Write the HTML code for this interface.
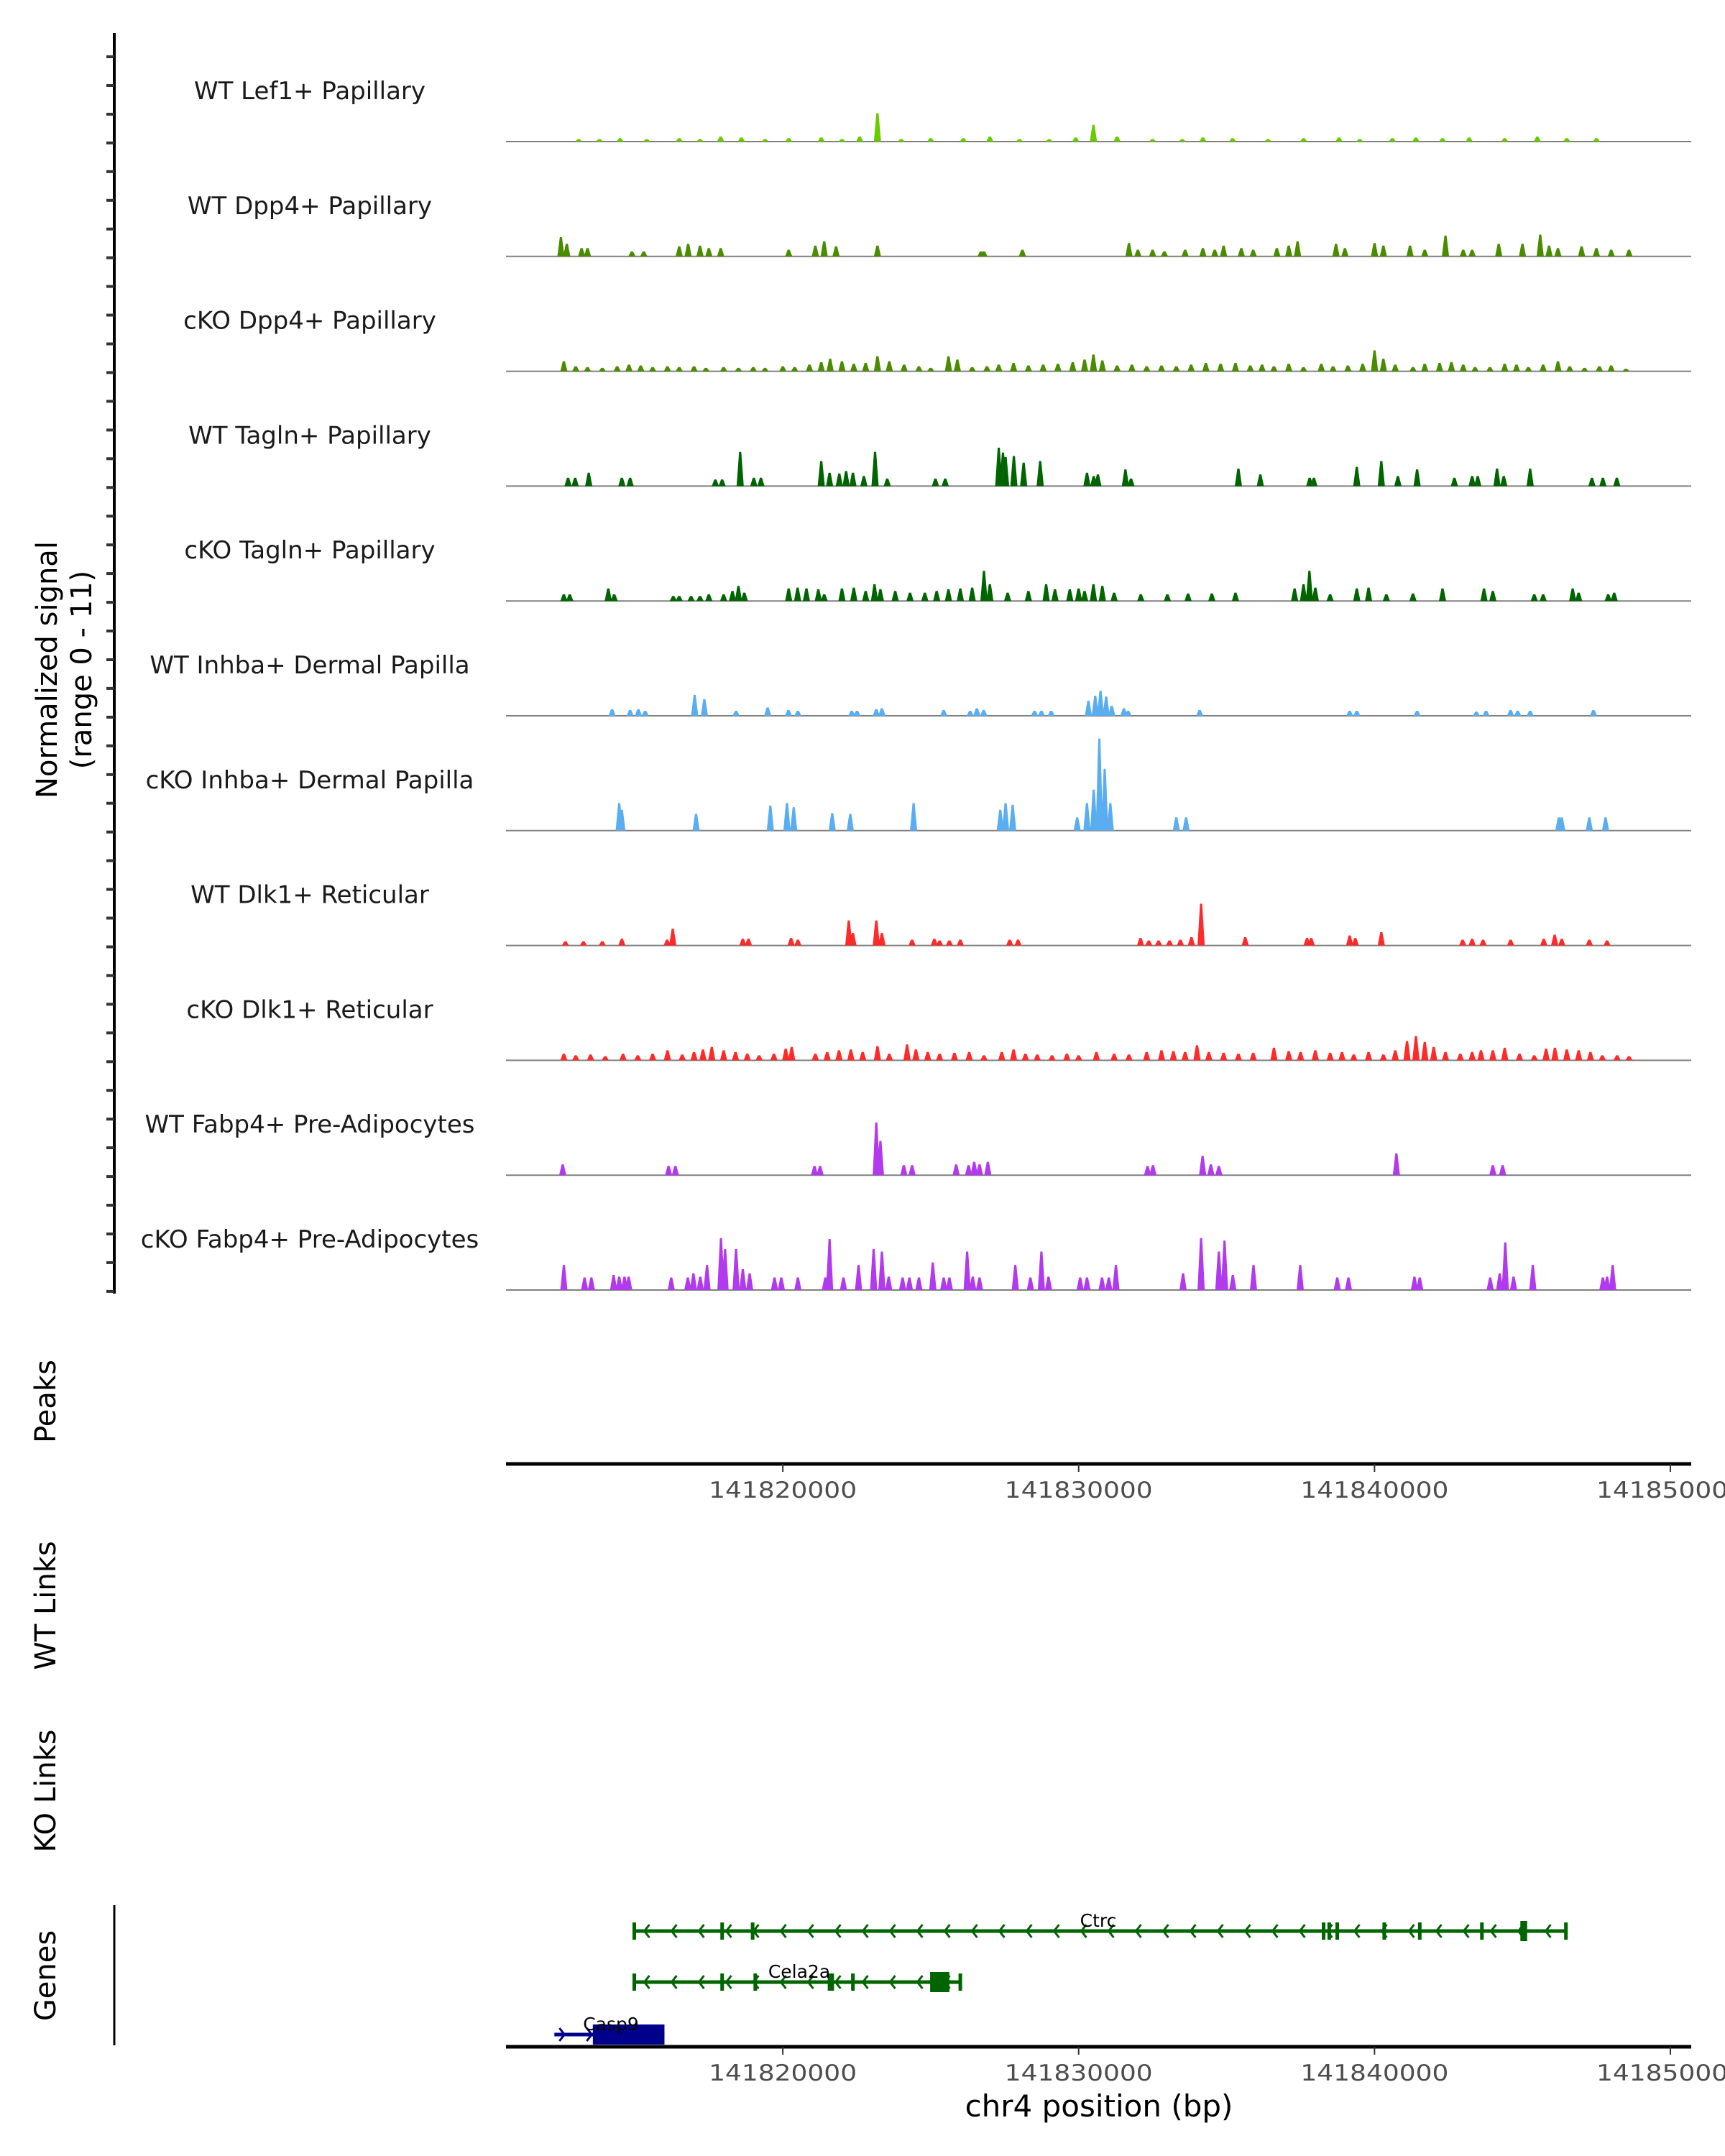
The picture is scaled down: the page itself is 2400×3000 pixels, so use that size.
<!DOCTYPE html>
<html><head><meta charset="utf-8">
<style>
html,body{margin:0;padding:0;background:#fff;}
svg{display:block;font-family:"DejaVu Sans","Liberation Sans",sans-serif;}
</style></head>
<body>
<svg id="chart" width="2400" height="3000" viewBox="0 0 2400 3000" xmlns="http://www.w3.org/2000/svg">
  <rect width="2400" height="3000" fill="#fff"/>
  <g id="yaxis"></g>
  <g id="tracks"></g>
  <text transform="translate(79,932) rotate(-90)" text-anchor="middle" font-size="40" fill="#000">Normalized signal</text>
  <text transform="translate(127,932) rotate(-90)" text-anchor="middle" font-size="40" fill="#000">(range 0 - 11)</text>
  <text transform="translate(77,1950) rotate(-90)" text-anchor="middle" font-size="40">Peaks</text>
  <text transform="translate(77,2234) rotate(-90)" text-anchor="middle" font-size="40">WT Links</text>
  <text transform="translate(77,2492) rotate(-90)" text-anchor="middle" font-size="40">KO Links</text>
  <text transform="translate(77,2749) rotate(-90)" text-anchor="middle" font-size="40">Genes</text>
  <line x1="159" y1="2651" x2="159" y2="2846" stroke="#000" stroke-width="3"/>
  <g id="xaxis1"></g>
  <g id="xaxis2"></g>
  <g id="genes"></g>
  <text x="1529" y="2945" text-anchor="middle" font-size="42">chr4 position (bp)</text>
</svg>
<script>
// ---- data (positions in kb relative to chr4:141800000, values = normalized signal) ----
const trackNames = ["WT Lef1+ Papillary","WT Dpp4+ Papillary","cKO Dpp4+ Papillary","WT Tagln+ Papillary","cKO Tagln+ Papillary","WT Inhba+ Dermal Papilla","cKO Inhba+ Dermal Papilla","WT Dlk1+ Reticular","cKO Dlk1+ Reticular","WT Fabp4+ Pre-Adipocytes","cKO Fabp4+ Pre-Adipocytes"];
const trackColors = ["#66cc00","#4a8c00","#4a8c00","#006400","#006400","#5aaef0","#5aaef0","#ff2a2a","#ff2a2a","#b23aee","#b23aee"];
const xTicks = [141820000,141830000,141840000,141850000];
const xDomain = [10.644, 50.705];
const yMax = 11;

const lef1Pos = [13.1,13.8,14.5,15.4,16.5,17.2,17.9,18.6,19.4,20.2,21.3,22.0,22.6,23.2,24.0,25.0,26.1,27.0,28.0,29.0,29.9,30.5,31.3,32.5,33.5,34.2,35.2,36.4,37.6,38.8,39.5,40.6,41.4,42.3,43.2,44.4,45.5,46.5,47.5];
const lef1Val = [.3,.3,.4,.3,.4,.3,.6,.5,.3,.4,.5,.3,.6,3.4,.3,.4,.4,.6,.3,.3,.5,2.0,.6,.3,.3,.5,.4,.3,.4,.5,.3,.4,.5,.4,.5,.4,.6,.4,.4];

const wtDppPos = [12.5,12.7,13.2,13.4,14.9,15.3,16.5,16.8,17.2,17.5,17.9,20.2,21.1,21.4,21.8,23.2,26.7,26.8,28.1,31.7,32.0,32.5,32.9,33.6,34.2,34.6,34.9,35.5,35.9,36.7,37.1,37.4,38.7,39.0,40.0,40.3,41.2,41.7,42.4,43.0,43.3,44.2,45.0,45.6,45.9,46.2,47.0,47.5,48.0,48.6];
const wtDppVal = [2.3,1.5,1.0,1.0,.6,.6,1.2,1.5,1.3,1.0,1.0,.8,1.3,1.8,1.2,1.3,.6,.6,.8,1.6,.8,.8,.6,.8,1.0,.8,1.3,1.0,.8,1.0,1.3,1.8,1.5,1.0,1.6,1.3,1.3,.8,2.5,.8,.8,1.5,1.5,2.6,1.3,1.0,1.2,1.0,.8,.8];

const koDppPos = [12.6,13.0,13.4,13.9,14.4,14.8,15.2,15.6,16.1,16.5,17.0,17.4,18.0,18.5,19.0,19.4,20.0,20.4,20.9,21.3,21.6,22.0,22.4,22.8,23.2,23.6,24.1,24.6,25.0,25.6,25.9,26.4,26.9,27.3,27.8,28.3,28.8,29.3,29.8,30.2,30.5,30.8,31.3,31.8,32.3,32.8,33.3,33.8,34.3,34.8,35.3,35.8,36.2,36.6,37.1,37.6,38.2,38.6,39.1,39.6,40.0,40.3,40.7,41.3,41.7,42.2,42.6,43.0,43.4,43.9,44.4,44.8,45.2,45.7,46.2,46.6,47.1,47.6,48.0,48.5];
const koDppVal = [1.2,.6,.5,.4,.6,.8,.7,.5,.6,.5,.6,.4,.5,.4,.5,.4,.6,.5,.8,1.1,1.5,1.2,.9,1.0,1.8,1.2,.8,.6,.4,1.8,1.4,.5,.6,.8,1.0,.7,.8,.9,1.1,1.4,2.0,1.3,.7,.8,.6,.7,.6,.8,1.0,.9,1.0,.7,.8,.6,.9,.5,.9,.6,.7,.9,2.5,1.5,.8,.5,.9,1.0,1.1,.8,.5,.5,.9,.8,.5,.8,1.2,.6,.4,.6,.7,.3];

const wtTagPos = [12.74,12.98,13.44,14.56,14.84,17.72,17.95,18.56,19.02,19.26,21.30,21.58,21.91,22.14,22.37,22.74,23.12,23.53,25.16,25.49,27.30,27.44,27.53,27.81,28.14,28.70,30.28,30.51,30.65,31.58,31.77,35.40,36.14,37.81,37.95,39.40,40.23,40.79,41.44,42.70,43.30,43.49,44.14,44.37,45.26,47.35,47.72,48.19];
const wtTagVal = [1.0,1.0,1.6,1.0,1.0,.8,.8,4.1,1.0,1.0,3.0,1.6,1.5,1.8,1.6,1.2,4.1,.9,.9,.9,4.6,4.0,3.5,3.6,2.8,3.0,1.6,1.2,1.4,2.0,.9,2.1,1.4,1.0,1.0,2.3,3.0,1.2,2.0,1.0,1.2,1.2,2.1,1.2,2.1,1.0,1.0,1.0];

const koTagPos = [12.6,12.8,14.1,14.3,16.3,16.5,16.9,17.2,17.5,18.0,18.3,18.5,18.7,20.2,20.5,20.8,21.2,21.4,22.0,22.4,22.8,23.1,23.3,23.8,24.3,24.8,25.2,25.6,26.0,26.4,26.8,27.0,27.6,28.3,28.9,29.2,29.7,30.0,30.2,30.5,30.8,31.2,32.1,33.0,33.7,34.5,35.3,37.3,37.6,37.8,38.0,38.5,39.4,39.8,40.4,41.3,42.3,43.7,44.0,45.4,45.7,46.7,46.9,47.9,48.1];
const koTagVal = [.8,.8,1.5,.8,.6,.6,.6,.6,.8,.8,1.2,1.8,1.0,1.5,1.6,1.5,1.4,.8,1.5,1.6,1.2,2.0,1.4,1.2,1.0,1.0,1.2,1.4,1.5,1.6,3.6,2.0,1.0,1.2,2.0,1.4,1.4,1.5,1.2,2.0,1.8,1.0,.8,.8,.9,.9,1.0,1.5,2.0,3.6,1.6,.8,1.5,1.6,.8,.9,1.5,1.5,1.2,.8,.8,1.5,1.0,.8,1.0];

const wtInhPos = [14.23,14.84,15.12,15.35,17.02,17.35,18.42,19.49,20.19,20.51,22.33,22.51,23.16,23.35,25.44,26.33,26.56,26.79,28.51,28.74,29.07,30.33,30.56,30.74,30.93,31.12,31.53,31.67,34.09,39.16,39.40,41.44,43.44,43.77,44.6,44.84,45.26,47.4];
const wtInhVal = [.8,.7,.8,.6,2.5,2.0,.6,1.0,.7,.6,.6,.6,.8,.9,.7,.6,.9,.7,.6,.6,.6,1.8,2.4,3.0,2.3,1.2,.9,.6,.7,.6,.6,.6,.5,.6,.7,.6,.6,.7];

const koInhPos = [14.47,14.56,17.07,19.58,20.14,20.37,21.67,22.28,24.42,27.35,27.53,27.77,29.95,30.28,30.51,30.70,30.88,31.07,33.30,33.63,46.23,46.33,47.26,47.81];
const koInhVal = [3.3,2.5,2.0,3.0,3.3,2.8,2.1,2.0,3.3,2.5,3.3,3.1,1.6,3.3,4.9,11,7.4,3.3,1.6,1.6,1.6,1.6,1.6,1.6];

const wtDlkPos = [12.65,13.26,13.9,14.56,16.09,16.28,18.65,18.84,20.28,20.51,22.23,22.37,23.16,23.35,24.37,25.12,25.3,25.63,26.0,27.67,27.95,32.09,32.37,32.7,33.07,33.44,33.81,34.14,35.63,37.72,37.86,39.16,39.35,40.23,42.98,43.30,43.67,44.6,45.72,46.09,46.33,47.26,47.86];
const wtDlkVal = [.5,.5,.5,.8,.7,2.0,.8,.8,.9,.7,3.0,1.5,3.0,1.5,.7,.8,.6,.6,.7,.7,.7,.9,.6,.6,.6,.7,1.0,5.0,1.0,.9,.9,1.2,.9,1.6,.7,.8,.7,.7,.8,1.3,.8,.7,.6];

const koDlkPos = [12.6,13.0,13.5,14.0,14.6,15.1,15.6,16.1,16.6,17.0,17.3,17.6,18.0,18.4,18.8,19.2,19.7,20.1,20.3,21.1,21.5,21.9,22.3,22.7,23.2,23.6,24.2,24.5,24.9,25.3,25.8,26.3,26.8,27.4,27.8,28.2,28.6,29.1,29.6,30.0,30.6,31.2,31.7,32.3,32.8,33.2,33.6,34.0,34.4,34.9,35.4,35.9,36.6,37.1,37.5,38.0,38.5,38.9,39.3,39.8,40.3,40.7,41.1,41.4,41.7,42.0,42.4,42.9,43.3,43.6,44.0,44.4,44.9,45.4,45.8,46.1,46.5,46.9,47.3,47.7,48.2,48.6];
const koDlkVal = [.8,.6,.7,.5,.8,.6,.8,1.2,.7,1.0,1.3,1.6,1.2,1.0,.8,.6,.8,1.4,1.6,.8,1.0,1.2,1.3,1.0,1.7,.8,1.9,1.3,1.0,.8,.9,1.0,.6,1.0,1.3,.8,.7,.6,.8,.6,1.0,.8,.7,1.0,1.2,1.1,1.0,1.8,1.0,.9,.8,.9,1.5,1.1,1.0,1.2,.9,1.0,.7,1.0,.7,1.2,2.3,2.9,2.2,1.6,1.0,.8,1.0,1.2,1.2,1.5,.8,.6,1.4,1.5,1.3,1.2,1.0,.6,.6,.5];

const wtFabPos = [12.56,16.14,16.37,21.07,21.26,23.16,23.3,24.09,24.37,25.86,26.28,26.47,26.65,26.93,32.33,32.51,34.19,34.47,34.74,40.74,44.0,44.33];
const wtFabVal = [1.3,1.1,1.1,1.1,1.1,6.3,4.1,1.2,1.2,1.3,1.2,1.6,1.3,1.6,1.1,1.2,2.3,1.3,1.1,2.6,1.2,1.2];

const koFabPos = [12.6,13.3,13.53,14.28,14.47,14.65,14.79,16.23,16.79,16.98,17.21,17.44,17.91,18.05,18.42,18.65,18.88,19.72,19.95,20.51,21.44,21.58,22.05,22.56,23.07,23.35,23.58,24.05,24.28,24.6,25.07,25.44,25.63,26.23,26.42,26.65,27.86,28.37,28.74,28.98,30.05,30.28,30.79,31.02,31.26,33.53,34.14,34.74,34.93,35.21,35.91,37.49,38.74,39.12,41.35,41.53,43.91,44.23,44.42,44.70,45.35,47.72,47.86,48.05];
const koFabVal = [3.0,1.5,1.5,1.8,1.6,1.6,1.6,1.5,1.5,2.0,1.6,3.0,6.2,4.9,4.9,2.5,2.0,1.5,1.5,1.5,1.5,6.1,1.5,3.0,4.9,4.6,1.6,1.5,1.5,1.5,3.3,1.5,1.5,4.6,1.6,1.5,3.0,1.5,4.6,1.6,1.5,1.5,1.5,1.5,3.0,2.0,6.2,4.6,5.9,1.8,3.0,3.0,1.5,1.5,1.6,1.5,1.5,2.0,5.7,1.6,3.0,1.5,1.6,3.0];

const trackPos = [lef1Pos,wtDppPos,koDppPos,wtTagPos,koTagPos,wtInhPos,koInhPos,wtDlkPos,koDlkPos,wtFabPos,koFabPos];
const trackVal = [lef1Val,wtDppVal,koDppVal,wtTagVal,koTagVal,wtInhVal,koInhVal,wtDlkVal,koDlkVal,wtFabVal,koFabVal];

const ctrcSpan = [14.98, 46.47];
const ctrcExons = [14.98,17.95,18.98,38.28,38.47,38.74,40.33,41.53,43.63,46.47];
const ctrcBoxes = [[44.93,45.16]];
const celaSpan = [14.98, 26.0];
const celaExons = [14.98,17.95,19.07,21.58,21.67,22.37,26.0];
const celaBoxes = [[24.98,25.63]];
const caspSpan = [12.28, 16.0];
const caspBoxes = [[13.58,16.0]];

// ---- scales ----
const X0 = 704, X1 = 2353;
function xs(kb){ return X0 + (kb - xDomain[0]) / (xDomain[1] - xDomain[0]) * (X1 - X0); }
const baseY0 = 197, trackStep = 159.8, pxPerUnit = 11.64;
function ys(i, v){ return baseY0 + i*trackStep - v*pxPerUnit; }
const NS = "http://www.w3.org/2000/svg";
function mk(tag, attrs, parent){ const e = document.createElementNS(NS, tag); for (const k in attrs) e.setAttribute(k, attrs[k]); parent.appendChild(e); return e; }

const ya = document.getElementById('yaxis');
const yl = mk('line', {x1:159,y1:46,x2:159,y2:1800,stroke:'#000','stroke-width':4}, ya);


for (let y = 79; y <= 1800; y += 39.95) {
  const t = mk('line', {x1:148,y1:y.toFixed(1),x2:159,y2:y.toFixed(1),stroke:'#333','stroke-width':4}, ya);
  
  
}

const tg = document.getElementById('tracks');
trackNames.forEach((name, i) => {
  const g = mk('g', {}, tg);
  
  
  const base = ys(i, 0);
  const lbl = mk('text', {x:431, y:(base - 59).toFixed(1), 'text-anchor':'middle','font-size':34, fill:'#1a1a1a'}, g);
  lbl.textContent = name;
  
  
  const bl = mk('line', {x1:X0, y1:base, x2:X1, y2:base, stroke:'#808080','stroke-width':2}, g);
  
  
  let d = '';
  trackPos[i].forEach((p, j) => {
    const x = xs(p), y = ys(i, trackVal[i][j]);
    d += `M${(x-5).toFixed(1)},${base}L${(x-1.5).toFixed(1)},${y.toFixed(1)}L${(x+1.5).toFixed(1)},${y.toFixed(1)}L${(x+5).toFixed(1)},${base}Z`;
  });
  const path = mk('path', {d:d, fill:trackColors[i]}, g);
  
  
});

function xAxis(gid, y, labelY){
  const g = document.getElementById(gid);
  const l = mk('line', {x1:X0, y1:y, x2:X1, y2:y, stroke:'#000','stroke-width':5}, g);
  
  
  xTicks.forEach(t => {
    const x = xs((t - 141800000)/1000);
    const tk = mk('line', {x1:x, y1:y, x2:x, y2:y+11, stroke:'#333','stroke-width':2}, g);
    
    
    const tl = mk('text', {x:(x-103).toFixed(1), y:labelY, 'font-size':31, fill:'#4d4d4d', textLength:206, lengthAdjust:'spacingAndGlyphs'}, g);
    tl.textContent = String(t);
    
    
  });
}
xAxis('xaxis1', 2037, 2084);
xAxis('xaxis2', 2848, 2895);

const gg = document.getElementById('genes');
function gene(name, span, exons, boxes, y, color, dir, labelX, labelY){
  const g = mk('g', {}, gg);
  
  
  const x1 = xs(span[0]), x2 = xs(span[1]);
  mk('line', {x1:x1, y1:y, x2:x2, y2:y, stroke:color,'stroke-width':5}, g);
  let d = '';
  for (let x = x1 + 14; x < x2 - 8; x += 38) {
    if (dir < 0) d += `M${x+7},${y-9}L${x},${y}L${x+7},${y+9}`;
    else d += `M${x-7},${y-9}L${x},${y}L${x-7},${y+9}`;
  }
  mk('path', {d:d, fill:'none', stroke:color,'stroke-width':3}, g);
  exons.forEach(e => { const x = xs(e); mk('rect', {x:x-2.5, y:y-12, width:5, height:24, fill:color}, g); });
  boxes.forEach(b => { const a = xs(b[0]), c = xs(b[1]); mk('rect', {x:a, y:y-14, width:c-a, height:28, fill:color}, g); });
  const t = mk('text', {x:labelX, y:labelY, 'text-anchor':'middle','font-size':25, fill:'#000'}, g);
  t.textContent = name;
  
  
}
gene('Ctrc', ctrcSpan, ctrcExons, ctrcBoxes, 2687, '#006400', -1, 1528, 2681);
gene('Cela2a', celaSpan, celaExons, celaBoxes, 2758, '#006400', -1, 1112, 2752);
gene('Casp9', caspSpan, [], caspBoxes, 2831, '#00008b', 1, 850, 2825);
</script>
</body></html>
